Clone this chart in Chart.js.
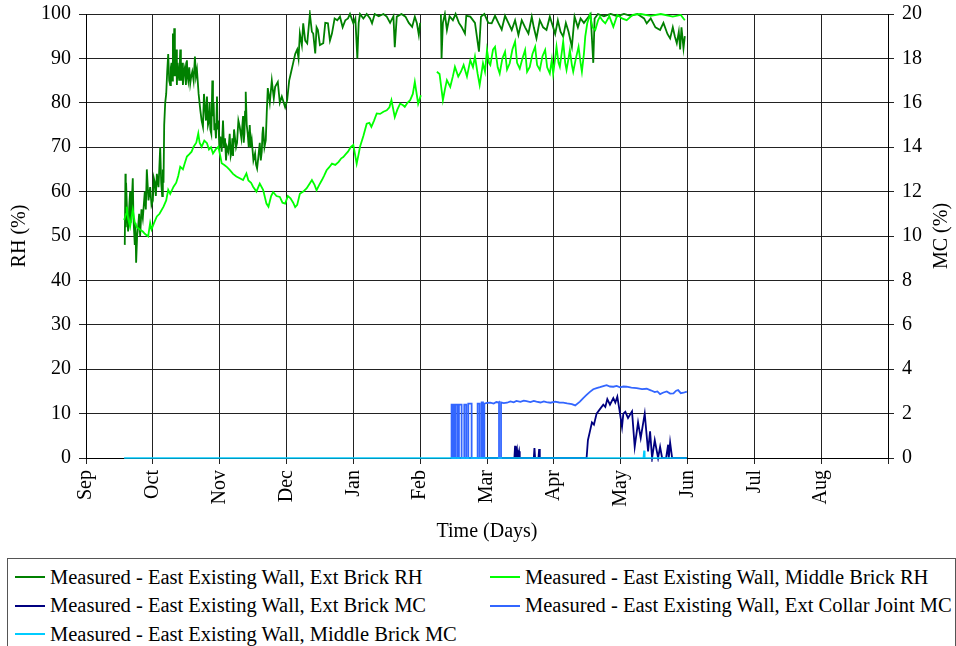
<!DOCTYPE html>
<html>
<head>
<meta charset="utf-8">
<script src="https://cdn.jsdelivr.net/npm/chart.js@4.4.0/dist/chart.umd.min.js"></script>
<style>
  body { margin: 0; background: #fff; font-family: "Liberation Serif", "Times New Roman", Times, "DejaVu Serif", serif; }
  #wrap { position: relative; width: 956px; height: 646px; overflow: hidden; }
  #legend { position: absolute; left: 7px; top: 558px; width: 949px; height: 100px; border: 1px solid #555; box-sizing: border-box; font-size: 20.5px; color: #000; }
  .item { position: absolute; height: 24px; display: flex; align-items: center; white-space: nowrap; }
  .swatch { width: 30px; height: 2px; margin-right: 5px; }
</style>
</head>
<body>
<div id="wrap">
  <canvas id="moistureChart" width="956" height="556"></canvas>
  <div id="legend"></div>
</div>
<script>
// x positions are months since 1 Sep (Sep = 0 ... end of Aug = 12)
const months = ["Sep", "Oct", "Nov", "Dec", "Jan", "Feb", "Mar", "Apr", "May", "Jun", "Jul", "Aug"];

const seriesNames = [
  "Measured - East Existing Wall, Ext Brick RH",
  "Measured - East Existing Wall, Middle Brick RH",
  "Measured - East Existing Wall, Ext Brick MC",
  "Measured - East Existing Wall, Ext Collar Joint MC",
  "Measured - East Existing Wall, Middle Brick MC"
];
const seriesColors = ["#008000", "#00ff00", "#000080", "#3366ff", "#00ccff"];

// Ext Brick RH (%)
const extRhT = [0.58, 0.59, 0.595, 0.60, 0.615, 0.63, 0.645, 0.66, 0.67, 0.68, 0.70, 0.71, 0.72, 0.73, 0.74, 0.75, 0.765, 0.78, 0.795, 0.81,
  0.83, 0.85, 0.865, 0.88, 0.895, 0.91, 0.935, 0.96, 0.98, 1.00, 1.015, 1.03, 1.045, 1.06, 1.085, 1.11, 1.125, 1.14, 1.15, 1.16,
  1.17, 1.185, 1.20, 1.215, 1.23, 1.245, 1.26, 1.27, 1.28, 1.29, 1.30, 1.31, 1.32, 1.33, 1.34, 1.35, 1.36, 1.37, 1.38, 1.395,
  1.41, 1.42, 1.43, 1.44, 1.45, 1.465, 1.48, 1.495, 1.51, 1.52, 1.53, 1.545, 1.56, 1.575, 1.59, 1.61, 1.63, 1.645, 1.66, 1.685,
  1.71, 1.73, 1.75, 1.765, 1.78, 1.795, 1.81, 1.825, 1.84, 1.85, 1.86, 1.875, 1.89, 1.90, 1.91, 1.92, 1.93, 1.945, 1.96, 1.97,
  1.98, 1.995, 2.01, 2.03, 2.05, 2.065, 2.08, 2.095, 2.11, 2.13, 2.15, 2.165, 2.18, 2.19, 2.20, 2.215, 2.23, 2.245, 2.26, 2.28,
  2.30, 2.325, 2.35, 2.36, 2.37, 2.38, 2.39, 2.405, 2.42, 2.435, 2.45, 2.465, 2.48, 2.505, 2.53, 2.545, 2.56, 2.58, 2.60, 2.615,
  2.63, 2.64, 2.65, 2.67, 2.69, 2.705, 2.72, 2.75, 2.78, 2.81, 2.83, 2.87, 2.90, 2.93, 2.98, 3.01, 3.04, 3.07, 3.10, 3.13,
  3.16, 3.18, 3.20, 3.23, 3.25, 3.28, 3.31, 3.35, 3.38, 3.40, 3.43, 3.45, 3.47, 3.50, 3.55, 3.58, 3.62, 3.65, 3.68, 3.72,
  3.76, 3.80, 3.84, 3.88, 3.92, 3.95, 4.00, 4.03, 4.06, 4.08, 4.10, 4.15, 4.20, 4.25, 4.28, 4.32, 4.38, 4.45, 4.50, 4.55,
  4.60, 4.62, 4.65, 4.72, 4.78, 4.83, 4.88, 4.92, 4.95, 4.98, 5.00, 5.15,
  5.31, 5.32, 5.34, 5.37, 5.40, 5.44, 5.49, 5.53, 5.58, 5.62, 5.67, 5.69, 5.75, 5.82, 5.88, 5.91, 5.96, 6.02, 6.07, 6.12,
  6.17, 6.22, 6.27, 6.32, 6.37, 6.42, 6.47, 6.52, 6.57, 6.62, 6.67, 6.70, 6.74, 6.79, 6.84, 6.89, 6.94, 6.99, 7.02, 7.06,
  7.10, 7.14, 7.18, 7.22, 7.27, 7.31, 7.36, 7.40, 7.45, 7.50, 7.55, 7.59, 7.61, 7.66, 7.75, 7.85, 7.95, 8.05, 8.15, 8.25,
  8.35, 8.39, 8.45, 8.52, 8.59, 8.64, 8.70, 8.74, 8.78, 8.81, 8.84, 8.87, 8.89, 8.91, 8.94, 8.96];
const extRh = [48, 64, 52, 62, 55, 51, 56, 60, 53, 56, 63, 54, 51, 48, 53, 44, 50, 52, 55, 50,
  56, 54, 57, 60, 56, 65, 58, 61, 57, 58, 63, 62, 59, 64, 61, 70, 62, 59, 65, 62,
  75, 80, 82, 87, 91, 85, 84, 88, 89, 85, 95.6, 86, 96.8, 86, 88, 92, 84, 89, 87, 85,
  92, 85, 86, 89, 84, 87, 88, 84, 89.6, 86, 85, 88, 84.4, 86, 87, 85, 90.4, 86, 87.4, 82,
  78.4, 76, 74.6, 82, 79, 76, 81.4, 75, 76, 80, 74, 73, 85, 77, 80, 74, 75.4, 72, 81.4, 74,
  76, 70, 72.4, 69, 76, 70, 72, 67, 70, 69, 73, 68, 69, 72, 68, 74, 72, 70, 71, 76,
  74.6, 72, 77, 71, 73, 78, 82.5, 75, 73, 70, 75, 70, 71.6, 67, 68.6, 66, 65.2, 68, 71, 67,
  69, 73, 74.6, 70, 71.6, 78, 83.3, 80, 85, 81, 83.6, 84.7, 80, 81.4, 79, 80.6, 85, 87, 89, 91,
  92, 90, 95.6, 93, 97.9, 94, 93.4, 100, 96, 95.6, 91.1, 97, 96.4, 93, 93.4, 98, 97.9, 94, 95.6, 99,
  98.6, 99.4, 97, 98.6, 99, 100, 97.9, 99, 90, 98, 100, 99, 100, 99, 97.9, 100, 99.5, 100, 99.4, 98,
  99.5, 92.5, 99.4, 100, 99.4, 98, 97.1, 99.4, 98, 95.3, 98, null,
  100, 90, 98, 100, 96.4, 99.5, 98.6, 100, 98, 97.1, 95.6, 99.6, 99.4, 98, 91.5, 99.4, 100, 98, 97.9, 99.6,
  98, 96.5, 99.6, 98, 96.4, 98.6, 95.3, 98.6, 97, 95.6, 99.4, 97, 94.5, 98.6, 97, 96.4, 99.4, 97, 95.5, 98.6,
  96, 94.9, 98, 96, 92.6, 99.4, 97, 99, 98, 99, 100, 89, 99, 100, 99.5, 100, 99.5, 100, 99.6, 100,
  99, 97.9, 99, 97, 96.4, 98, 95.5, 94.5, 97, 95, 93.4, 96, 92, 97, 92.3, 95];

// Middle Brick RH (%)
const midRhT = [0.57, 0.60, 0.61, 0.63, 0.66, 0.68, 0.70, 0.73, 0.76, 0.81, 0.85, 0.88, 0.93, 0.96, 0.98, 1.02, 1.06, 1.10, 1.16, 1.20,
  1.23, 1.26, 1.31, 1.35, 1.38, 1.41, 1.45, 1.48, 1.51, 1.55, 1.58, 1.61, 1.65, 1.68, 1.70, 1.73, 1.77, 1.81, 1.84, 1.87,
  1.90, 1.94, 1.98, 2.01, 2.03, 2.07, 2.11, 2.15, 2.20, 2.25, 2.30, 2.35, 2.40, 2.43, 2.47, 2.50, 2.55, 2.60, 2.65, 2.70,
  2.73, 2.77, 2.80, 2.85, 2.90, 2.94, 2.98, 3.02, 3.06, 3.10, 3.13, 3.16, 3.20, 3.25, 3.30, 3.35, 3.38, 3.42, 3.45, 3.49,
  3.53, 3.56, 3.60, 3.64, 3.68, 3.73, 3.78, 3.82, 3.85, 3.89, 3.92, 3.96, 4.00, 4.03, 4.05, 4.08, 4.10, 4.15, 4.20, 4.24,
  4.27, 4.31, 4.35, 4.40, 4.45, 4.50, 4.54, 4.57, 4.62, 4.66, 4.70, 4.74, 4.77, 4.81, 4.85, 4.89, 4.92, 4.97, 5.01, 5.12,
  5.25, 5.29, 5.34, 5.37, 5.40, 5.45, 5.49, 5.52, 5.57, 5.61, 5.65, 5.70, 5.75, 5.79, 5.82, 5.86, 5.89, 5.94, 5.97, 6.00,
  6.03, 6.05, 6.09, 6.12, 6.16, 6.19, 6.23, 6.27, 6.30, 6.34, 6.38, 6.42, 6.45, 6.49, 6.53, 6.57, 6.60, 6.64, 6.68, 6.72,
  6.75, 6.79, 6.83, 6.87, 6.90, 6.94, 6.97, 6.99, 7.02, 7.04, 7.07, 7.09, 7.12, 7.14, 7.17, 7.19, 7.22, 7.24, 7.27, 7.29,
  7.33, 7.37, 7.40, 7.42, 7.45, 7.47, 7.50, 7.54, 7.58, 7.62, 7.66, 7.69, 7.73, 7.77, 7.83, 7.89, 7.95, 8.02, 8.09, 8.18,
  8.30, 8.45, 8.60, 8.78, 8.90, 8.96];
const midRh = [53.6, 55, 56.6, 54, 52.1, 54, 55.9, 53, 52, 51.4, 51, 50.5, 49.9, 52.9, 51.5, 53, 54.4, 55, 56.6, 58,
  60.4, 59.5, 61.1, 62, 63.5, 65.6, 65, 66.5, 67.9, 68.5, 69, 70.1, 71, 73.1, 71, 70.1, 71.5, 70.9, 69.5, 70,
  68.6, 69.5, 70.1, 68, 66.4, 66, 65.5, 64.9, 64, 63.4, 63, 62.6, 64.1, 62.5, 62, 61.1, 60, 61.8, 60.4, 57.3,
  56.6, 59, 59.9, 59, 58.8, 57.5, 57.3, 59, 58.5, 57.5, 56.5, 57, 59.5, 60, 60.7, 61.9, 62.6, 61.5, 60.3, 61.5,
  62.6, 63.5, 64.8, 65.5, 66.3, 66, 66.7, 67.5, 67.8, 68.5, 69, 70, 70.5, 68, 66.3, 68.5, 70.1, 72.5, 75.3, 75.5,
  74.6, 76, 77.6, 77.5, 78, 78.3, 79, 80.6, 76.8, 78.5, 79.8, 79.5, 79.1, 80, 80.6, 82, 84.7, 79.8, 81.7, null,
  87, 86.5, 80.6, 83, 85.1, 83.6, 86, 88.1, 85.9, 87, 88.5, 85.9, 89.6, 88, 90.4, 86.5, 84, 88.9, 87, 91.9,
  89, 88.5, 92, 92.6, 88, 86.6, 90, 91.5, 87.5, 88.9, 92, 93.8, 89, 87.7, 90, 91.9, 87, 88.1, 91, 92.6,
  88.5, 87.4, 90.5, 91.9, 88, 86.6, 89.7, 86.6, 90, 92.6, 89, 88.1, 91.5, 93.8, 89, 87.4, 90, 91.9, 88.5, 87,
  90, 92.6, 89, 87, 91, 94.9, 97.9, 99.8, 97, 96.4, 98.5, 99.4, 98.5, 97.9, 99.5, 97.1, 99.8, 99, 98.6, 99.8,
  100, 99.6, 100, 99.4, 99.8, 98.6];

// Ext Brick MC (%)
const extMcT = [5.46, 6.40, 6.41, 6.42, 6.43, 6.45, 6.46, 6.48, 6.49, 6.70, 6.71, 6.72, 6.77, 6.78, 6.79, 7.49, 7.51, 7.54, 7.57, 7.60,
  7.64, 7.69, 7.74, 7.77, 7.80, 7.84, 7.89, 7.92, 7.95, 7.98, 8.02, 8.04, 8.07, 8.11, 8.17, 8.21, 8.26, 8.30, 8.36, 8.41,
  8.44, 8.47, 8.51, 8.56, 8.59, 8.62, 8.68, 8.71, 8.72, 8.74, 8.77, 8.99];
const extMc = [0, 0, 0, 0.55, 0, 0.35, 0, 0.3, 0, 0, 0.45, 0, 0, 0.4, 0, 0, 0.8, 1.2, 1.6, 1.5,
  2.0, 2.2, 2.4, 2.3, 2.65, 2.4, 2.7, 2.5, 2.76, 2.2, 1.4, 2.0, 2.08, 1.8, 2.1, 0.5, 1.6, 0.9, 2.0, 0.3,
  1.2, 0, 0.8, 0, 0.5, 0, 0, 0.6, 0, 0.7, 0, 0];

// Ext Collar Joint MC (%)
const collarMcT = [5.47, 5.47, 5.48, 5.48, 5.50, 5.50, 5.51, 5.51, 5.53, 5.53, 5.56, 5.56, 5.58, 5.58, 5.62, 5.62, 5.66, 5.66, 5.69, 5.69,
  5.72, 5.72, 5.77, 5.77, 5.86, 5.86, 5.89, 5.89, 5.92, 5.92, 5.94, 5.94, 5.96, 5.96, 6.00, 6.05, 6.10, 6.14, 6.17, 6.18,
  6.18, 6.21, 6.21, 6.25, 6.30, 6.35, 6.40, 6.44, 6.50, 6.55, 6.59, 6.65, 6.70, 6.74, 6.80, 6.85, 6.89, 6.95, 7.02, 7.08,
  7.14, 7.20, 7.27, 7.32, 7.39, 7.44, 7.49, 7.54, 7.59, 7.64, 7.69, 7.74, 7.79, 7.84, 7.89, 7.94, 7.99, 8.04, 8.09, 8.16,
  8.24, 8.32, 8.39, 8.45, 8.51, 8.55, 8.59, 8.64, 8.69, 8.74, 8.79, 8.83, 8.86, 8.90, 8.94, 8.99];
const collarMc = [0, 2.4, 2.4, 0, 0, 2.4, 2.4, 0, 0, 2.4, 2.4, 0, 0, 2.4, 2.4, 0, 0, 2.4, 2.4, 0,
  0, 2.45, 2.45, 0, 0, 2.45, 2.45, 0, 0, 2.5, 2.5, 0, 0, 2.45, 2.48, 2.49, 2.45, 2.52, 2.5, 2.52,
  0, 0, 2.5, 2.47, 2.49, 2.55, 2.51, 2.57, 2.53, 2.58, 2.56, 2.52, 2.57, 2.54, 2.5, 2.55, 2.52, 2.49, 2.54, 2.5,
  2.49, 2.46, 2.43, 2.37, 2.54, 2.7, 2.84, 2.98, 3.1, 3.15, 3.19, 3.24, 3.28, 3.22, 3.21, 3.25, 3.18, 3.22, 3.21, 3.17,
  3.15, 3.1, 3.12, 3.05, 2.97, 3.0, 2.88, 2.95, 3.0, 2.9, 2.91, 3.03, 3.06, 2.92, 2.94, 2.99];

// Middle Brick MC (%)
const midMcT = [0.57, 8.34, 8.35, 8.36, 8.99];
const midMc = [0, 0, 0.33, 0, 0];

const toPoints = (t, v) => t.map((x, i) => ({ x: x, y: v[i] }));

const fontFace = "'Liberation Serif', 'Times New Roman', Times, 'DejaVu Serif', serif";

// right axis title reads bottom-to-top like the left one
const rightTitle = {
  id: "rightTitle",
  afterDraw(chart) {
    const ctx = chart.ctx;
    const area = chart.chartArea;
    ctx.save();
    ctx.translate(942, (area.top + area.bottom) / 2);
    ctx.rotate(-Math.PI / 2);
    ctx.font = "20px " + fontFace;
    ctx.fillStyle = "#000";
    ctx.textAlign = "center";
    ctx.textBaseline = "middle";
    ctx.fillText("MC (%)", 0, 0);
    ctx.restore();
  }
};

const lineSet = (idx, t, v, axis, order, width) => ({
  label: seriesNames[idx],
  data: toPoints(t, v),
  yAxisID: axis,
  borderColor: seriesColors[idx],
  backgroundColor: seriesColors[idx],
  borderWidth: width,
  pointRadius: 0,
  tension: 0,
  spanGaps: false,
  clip: 4,
  order: order
});

// fixed axis boxes so the plot area sits where the original one does
const fitY = (w) => (s) => { s.width = w; s.paddingTop = 0; s.paddingBottom = 0; };

new Chart(document.getElementById("moistureChart"), {
  type: "line",
  data: {
    datasets: [
      lineSet(0, extRhT, extRh, "y", 5, 1.8),
      lineSet(1, midRhT, midRh, "y", 4, 1.8),
      lineSet(2, extMcT, extMc, "y1", 3, 1.8),
      lineSet(3, collarMcT, collarMc, "y1", 2, 1.8),
      lineSet(4, midMcT, midMc, "y1", 1, 1.6)
    ]
  },
  options: {
    responsive: false,
    animation: false,
    layout: { padding: { top: 14, left: 0, right: 0, bottom: 0 } },
    plugins: { legend: { display: false }, tooltip: { enabled: false } },
    scales: {
      x: {
        type: "linear",
        min: 0,
        max: 12,
        afterFit: (s) => { s.height = 98; },
        grid: { color: "#222", lineWidth: 1, tickLength: 6 },
        border: { color: "#000" },
        ticks: {
          stepSize: 1,
          autoSkip: false,
          minRotation: 90,
          maxRotation: 90,
          padding: 6,
          color: "#000",
          font: { family: fontFace, size: 20 },
          callback: (v) => months[v] || ""
        },
        title: { display: true, text: "Time (Days)", color: "#000", font: { family: fontFace, size: 20 }, padding: { top: 0, bottom: 12 } }
      },
      y: {
        position: "left",
        min: 0,
        max: 100,
        afterFit: fitY(86),
        grid: { color: "#222", lineWidth: 1, tickLength: 7 },
        border: { color: "#000" },
        ticks: { stepSize: 10, padding: 8, color: "#000", font: { family: fontFace, size: 20 } },
        title: { display: true, text: "RH (%)", color: "#000", font: { family: fontFace, size: 20 }, padding: { top: 8, bottom: 0 } }
      },
      y1: {
        position: "right",
        min: 0,
        max: 20,
        afterFit: fitY(68),
        grid: { drawOnChartArea: false, color: "#222", tickLength: 6 },
        border: { color: "#000" },
        ticks: { stepSize: 2, padding: 8, color: "#000", font: { family: fontFace, size: 20 } }
      }
    }
  },
  plugins: [rightTitle]
});

// legend box under the chart, two columns
const legend = document.getElementById("legend");
seriesNames.forEach((name, i) => {
  const item = document.createElement("div");
  item.className = "item";
  item.style.left = (i % 2 === 0 ? 7 : 482) + "px";
  item.style.top = (6 + Math.floor(i / 2) * 28.5) + "px";
  const sw = document.createElement("span");
  sw.className = "swatch";
  sw.style.background = seriesColors[i];
  const txt = document.createElement("span");
  txt.textContent = name;
  item.appendChild(sw);
  item.appendChild(txt);
  legend.appendChild(item);
});
</script>
</body>
</html>
